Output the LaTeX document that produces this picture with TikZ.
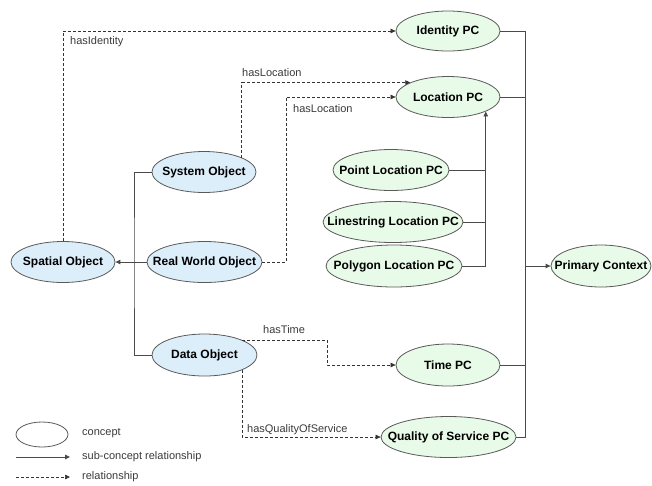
\documentclass[tikz,border=0pt]{standalone}
\usepackage{fontspec}
\setmainfont{Liberation Sans}
\usetikzlibrary{shapes.geometric,arrows.meta}
\definecolor{objfill}{HTML}{DDEEFB}
\definecolor{pcfill}{HTML}{E8FAE8}
\definecolor{rim}{HTML}{5A5A5A}
\definecolor{wire}{HTML}{4A4A4A}
\definecolor{lbl}{HTML}{3A3A3A}
\newcommand\ctext[1]{\makebox[0pt]{#1}}
\tikzset{
  concept/.style={ellipse, draw=rim, line width=0.8pt, inner sep=0pt,
    font=\fontsize{12}{14}\selectfont\bfseries},
  objc/.style={concept, fill=objfill},
  pcc/.style={concept, fill=pcfill},
  sub/.style={draw=wire, line width=0.9pt},
  subarr/.style={sub, -{Triangle[length=5pt,width=4.5pt]}},
  rel/.style={draw=black!80, line width=0.6pt, dash pattern=on 3pt off 2pt,
    -{Triangle[length=5pt,width=4.5pt]}},
  rellbl/.style={anchor=base west, inner sep=0pt, text=lbl,
    font=\fontsize{11}{13}\selectfont},
}
\begin{document}
\begin{tikzpicture}[x=1pt,y=-1pt]
\useasboundingbox (0,0) rectangle (652,485);

% spatial object hierarchy
\node[objc, minimum width=104pt, minimum height=41pt] (spatial) at (63,262) {\ctext{Spatial Object}};
\node[objc, minimum width=104pt, minimum height=41pt] (system) at (204,172) {\ctext{System Object}};
\node[objc, minimum width=115pt, minimum height=41pt] (realworld) at (204.5,262) {\ctext{Real World Object}};
\node[objc, minimum width=105pt, minimum height=42pt] (data) at (204.5,355) {\ctext{Data Object}};

% primary contexts
\node[pcc, minimum width=104pt, minimum height=40pt] (identity) at (448,31) {\ctext{Identity PC}};
\node[pcc, minimum width=104pt, minimum height=41pt] (location) at (448,97) {\ctext{Location PC}};
\node[pcc, minimum width=116pt, minimum height=41pt] (point) at (391,170) {\ctext{Point Location PC}};
\node[pcc, minimum width=140pt, minimum height=41pt] (linestring) at (393,222) {\ctext{Linestring Location PC}};
\node[pcc, minimum width=136pt, minimum height=42pt] (polygon) at (394,266) {\ctext{Polygon Location PC}};
\node[pcc, minimum width=100pt, minimum height=42pt] (primary) at (601,266) {\ctext{Primary Context}};
\node[pcc, minimum width=104pt, minimum height=42pt] (time) at (448,365) {\ctext{Time PC}};
\node[pcc, minimum width=135pt, minimum height=41pt] (qos) at (448.5,437) {\ctext{Quality of Service PC}};

% bus lines
\coordinate (lspine) at (134,262);
\coordinate (rspine) at (525,266);
\coordinate (locbus) at (485,266);

% sub-concept relationships
\draw[subarr] (realworld.west) -- (spatial.east);
\draw[sub] (system.west) -| (lspine) |- (data.west);

\draw[sub] (point.east) -- (point.east -| locbus);
\draw[sub] (linestring.east) -- (linestring.east -| locbus);
\draw[subarr] (polygon.east) -| (location.-21.3);

\draw[sub] (identity.east) -| (rspine);
\draw[sub] (location.east) -- (location.east -| rspine);
\draw[sub] (time.east) -- (time.east -| rspine);
\draw[sub] (qos.east) -| (rspine);
\draw[subarr] (rspine) -- (primary.west);

% relationships
\draw[rel] (spatial.north) |- (identity.west);
\node[rellbl] (lidentity) at (70,44) {hasIdentity};

\draw[rel] (system.21.3) |- (location.159.8);
\node[rellbl] (lloc1) at (242,76) {hasLocation};

\draw[rel] (realworld.east) -- ++(24,0) |- (location.west);
\node[rellbl] (lloc2) at (293,112) {hasLocation};

\draw[rel] (data.22.5) -- ++(85,0) |- (time.west);
\node[rellbl] (ltime) at (263,333) {hasTime};

\draw[rel] (data.-22.5) |- (qos.west);
\node[rellbl] (lqos) at (247,432) {hasQualityOfService};

% legend
\node[ellipse, draw=rim, line width=0.8pt, minimum width=52pt, minimum height=25pt, inner sep=0pt] (legc) at (42,434.5) {};
\node[rellbl, anchor=west] (legct) at (82,433) {concept};
\coordinate (ls1) at (16,457);
\coordinate (ls2) at (70,457);
\draw[subarr] (ls1) -- (ls2);
\node[rellbl, anchor=west] (legst) at (82,457) {sub-concept relationship};
\coordinate (lr1) at (16,477);
\coordinate (lr2) at (70,477);
\draw[rel] (lr1) -- (lr2);
\node[rellbl, anchor=west] (legrt) at (82,477) {relationship};
\end{tikzpicture}
\end{document}
